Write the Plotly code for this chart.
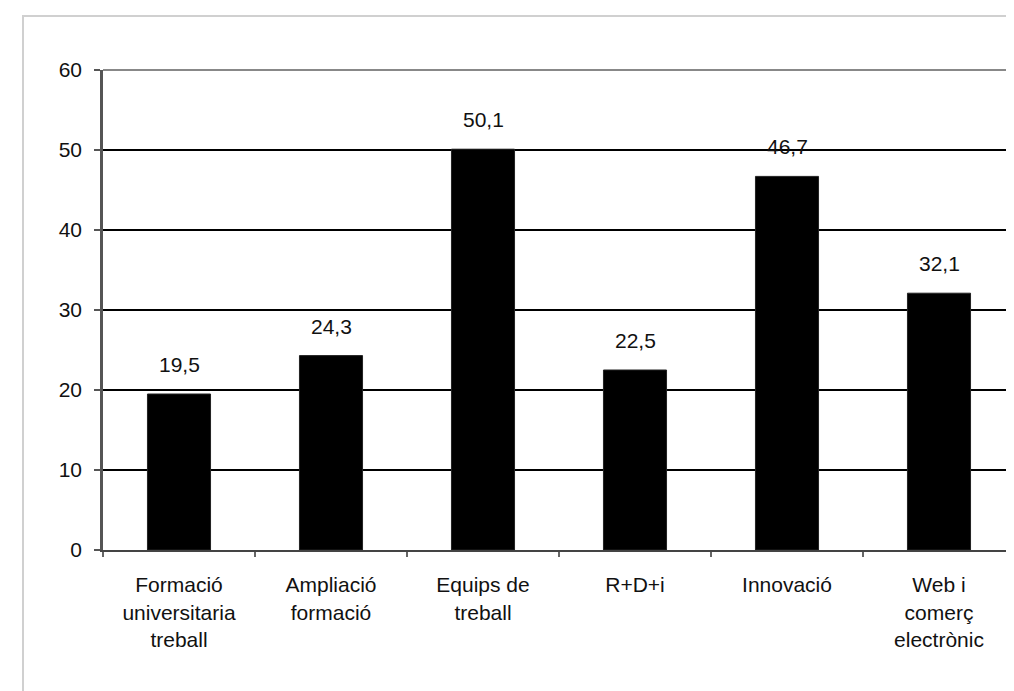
import plotly.graph_objects as go

categories = ["Formació<br>universitaria<br>treball", "Ampliació<br>formació", "Equips de<br>treball",
              "R+D+i", "Innovació", "Web i<br>comerç<br>electrònic"]
values = [19.5, 24.3, 50.1, 22.5, 46.7, 32.1]
value_labels = ["19,5", "24,3", "50,1", "22,5", "46,7", "32,1"]
y_ticks = [0, 10, 20, 30, 40, 50, 60]

W, H = 1014, 691
L, R, T, B = 95, 7, 62, 149
pw, ph = W - L - R, H - T - B

FONT = "Liberation Sans, Arial, sans-serif"

fig = go.Figure()
fig.add_trace(go.Bar(x=categories, y=values, marker=dict(color="#000000", line=dict(color="#222", width=1)),
                     hoverinfo="skip"))

for c, v, t in zip(categories, values, value_labels):
    fig.add_annotation(x=c, y=v, text=t, showarrow=False, yanchor="bottom", yshift=16,
                       font=dict(family=FONT, size=21, color="#111"))

# outer light border
fig.add_shape(type="rect", xref="paper", yref="paper",
              x0=(15 - L) / pw, x1=(1030 - L) / pw, y0=-0.6, y1=1 + (T - 8) / ph,
              line=dict(color="#d0d0d0", width=2), layer="below")
# top and right frame
fig.add_shape(type="line", xref="paper", yref="paper", x0=0, x1=1, y0=1, y1=1,
              line=dict(color="#888888", width=2), layer="above")
fig.add_shape(type="line", xref="paper", yref="paper", x0=1, x1=1, y0=0, y1=1,
              line=dict(color="#888888", width=2), layer="above")

fig.update_layout(
    width=W, height=H,
    margin=dict(l=L, r=R, t=T, b=B, autoexpand=False),
    paper_bgcolor="white", plot_bgcolor="white",
    bargap=0.585, showlegend=False,
    font=dict(family=FONT, size=21, color="#111"),
)
fig.update_yaxes(range=[0, 60], tickvals=y_ticks, showgrid=True, gridcolor="#000000", gridwidth=1.5,
                 showline=True, linecolor="#555555", linewidth=2.5, ticks="outside", ticklen=6,
                 tickcolor="#555555", tickwidth=2, zeroline=False, ticklabelstandoff=8,
                 tickfont=dict(family=FONT, size=21, color="#111"))
fig.update_xaxes(showline=True, linecolor="#444444", linewidth=2, ticks="outside", ticklen=5,
                 tickson="boundaries", tickcolor="#666666", tickwidth=2, showgrid=False,
                 tickfont=dict(family=FONT, size=21, color="#111"), ticklabelstandoff=15)

fig.write_html("out.html")
